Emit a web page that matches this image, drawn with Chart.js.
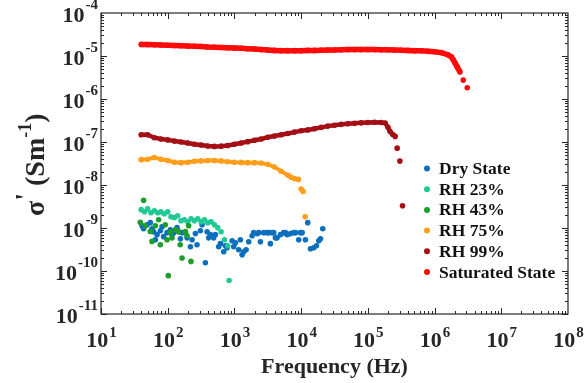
<!DOCTYPE html>
<html>
<head>
<meta charset="utf-8">
<script src="https://cdn.jsdelivr.net/npm/chart.js@4.4.1/dist/chart.umd.min.js"></script>
<style>
  html, body { margin: 0; padding: 0; background: #fff; }
</style>
</head>
<body>
<canvas id="myChart" width="587" height="383"></canvas>
<script>
// ------- DATA -------
// frequency sweep shared by the smooth curves (Hz)
const sweepFreq = [40, 50, 63, 79, 100, 126, 158, 200, 251, 316, 398, 501, 631, 794,
  1000, 1260, 1580, 2000, 2510, 3160, 3980, 5010, 6310, 7940,
  1e4, 1.26e4, 1.58e4, 2e4, 2.51e4, 3.16e4, 3.98e4, 5.01e4, 6.31e4, 7.94e4,
  1e5, 1.26e5, 1.58e5, 2e5, 2.51e5, 3.16e5, 3.98e5, 5.01e5, 6.31e5, 7.94e5,
  1e6, 1.26e6, 1.58e6];

// Saturated State (S/m)
const satSigma = [1.86e-5, 1.84e-5, 1.82e-5, 1.80e-5, 1.78e-5, 1.76e-5, 1.74e-5, 1.70e-5, 1.68e-5, 1.66e-5,
  1.62e-5, 1.60e-5, 1.58e-5, 1.55e-5, 1.53e-5, 1.51e-5, 1.48e-5, 1.45e-5, 1.41e-5, 1.38e-5,
  1.35e-5, 1.33e-5, 1.33e-5, 1.33e-5, 1.33e-5, 1.35e-5, 1.35e-5, 1.36e-5, 1.38e-5, 1.38e-5,
  1.40e-5, 1.41e-5, 1.41e-5, 1.41e-5, 1.41e-5, 1.41e-5, 1.40e-5, 1.40e-5, 1.38e-5, 1.36e-5,
  1.35e-5, 1.33e-5, 1.32e-5, 1.29e-5, 1.26e-5, 1.20e-5, 1.07e-5];
const satTailFreq = [1.78e6, 1.91e6, 2.04e6, 2.19e6, 2.40e6, 2.69e6, 3.09e6];
const satTailSigma = [9.55e-6, 8.13e-6, 6.76e-6, 5.50e-6, 4.27e-6, 2.75e-6, 1.82e-6];

// RH 99%
const rh99Sigma = [1.48e-7, 1.48e-7, 1.26e-7, 1.17e-7, 1.12e-7, 1.05e-7, 1.00e-7, 9.5e-8, 8.9e-8, 8.5e-8,
  8.1e-8, 7.9e-8, 8.0e-8, 8.3e-8, 8.9e-8, 9.5e-8, 1.02e-7, 1.10e-7, 1.17e-7, 1.29e-7,
  1.38e-7, 1.48e-7, 1.58e-7, 1.70e-7, 1.82e-7, 1.91e-7, 2.04e-7, 2.19e-7, 2.34e-7, 2.45e-7,
  2.57e-7, 2.66e-7, 2.72e-7, 2.79e-7, 2.85e-7, 2.88e-7, 2.85e-7];
const rh99TailFreq = [1.82e5, 2.0e5, 2.14e5, 2.34e5, 2.57e5, 2.75e5, 3.02e5, 3.31e5];
const rh99TailSigma = [2.75e-7, 2.19e-7, 1.78e-7, 1.51e-7, 1.35e-7, 7.2e-8, 3.6e-8, 3.3e-9];

// RH 75%
const rh75Sigma = [3.89e-8, 3.98e-8, 4.37e-8, 3.98e-8, 3.72e-8, 3.39e-8, 3.31e-8, 3.39e-8, 3.55e-8, 3.63e-8,
  3.72e-8, 3.72e-8, 3.63e-8, 3.47e-8, 3.39e-8, 3.35e-8, 3.31e-8, 3.31e-8, 3.24e-8, 3.02e-8,
  2.63e-8, 2.09e-8, 1.70e-8];
const rh75TailFreq = [7080, 7940, 9120, 1e4, 1.07e4, 1.15e4];
const rh75TailSigma = [1.51e-8, 1.41e-8, 1.35e-8, 8.1e-9, 7.1e-9, 1.82e-9];

// RH 23%
const rh23Freq = [40, 45, 50, 56, 63, 71, 79, 89, 100, 112, 126, 141, 158, 178, 200, 224, 251, 282, 316, 355,
  398, 447, 501, 562, 631, 708, 794, 832];
const rh23Sigma = [2.67e-9, 2.39e-9, 2.81e-9, 2.27e-9, 2.52e-9, 2.27e-9, 2.39e-9, 2.15e-9, 2.39e-9, 1.83e-9,
  1.74e-9, 1.93e-9, 1.48e-9, 1.56e-9, 1.40e-9, 1.64e-9, 1.48e-9, 1.64e-9, 1.40e-9, 1.56e-9,
  1.33e-9, 1.40e-9, 1.19e-9, 1.02e-9, 8.2e-10, 5.35e-10, 3.87e-10, 6.0e-11];

// RH 43%
const rh43Freq = [38.8, 43.5, 46.1, 54.8, 58.2, 65.2, 73.1, 77.5, 92.0, 97.7, 102, 109, 116, 130, 146, 154,
  164, 184, 195, 206, 223];
const rh43Sigma = [1.35e-9, 4.39e-9, 1.13e-9, 8.3e-10, 4.88e-10, 1.13e-9, 1.56e-9, 4.09e-10, 1.19e-9, 5.35e-10,
  7.8e-11, 7.9e-10, 5.85e-10, 9.1e-10, 8.3e-10, 4.09e-10, 2.0e-10, 8.3e-10, 6.6e-10, 1.13e-9, 1.67e-10];

// Dry State
const dryFreq = [41.2, 43.5, 49.0, 54.9, 58.2, 61.5, 65.3, 69.2, 77.6, 82.2,
  86.9, 97.7, 109.5, 116, 123, 130, 138, 146, 155, 164,
  184, 195, 219, 232, 260, 275, 309, 327, 367, 389,
  411, 436, 489, 518, 581, 616, 690, 732, 776, 923,
  975, 1034, 1159, 1229, 1303, 1377, 1496, 1637, 1841, 1945,
  2188, 2312, 2452, 2748, 3090, 3266, 3463, 3673, 3882, 4117,
  4365, 4893, 5483, 5814, 6166, 6911, 7745, 8212, 9204, 9761,
  10350, 11600, 12560, 13790, 15450, 16960, 18370, 19480, 21090];
const drySigma = [1.13e-9, 9.6e-10, 1.19e-9, 1.33e-9, 9.6e-10, 8.2e-10, 5.35e-10, 7.0e-10, 8.6e-10, 1.07e-9,
  6.3e-10, 7.8e-10, 9.1e-10, 7.0e-10, 7.8e-10, 8.6e-10, 1.02e-9, 8.2e-10, 5.6e-10, 7.8e-10,
  7.8e-10, 5.9e-10, 3.67e-10, 5.35e-10, 7.4e-10, 4.09e-10, 8.6e-10, 1.19e-9, 1.56e-10, 8.2e-10,
  5.9e-10, 7.0e-10, 5.9e-10, 7.0e-10, 3.67e-10, 4.32e-10, 2.81e-10, 3.88e-10, 3.48e-10, 5.07e-10,
  3.67e-10, 4.55e-10, 3.13e-10, 5.35e-10, 2.39e-10, 2.81e-10, 3.13e-10, 4.8e-10, 6.6e-10, 7.8e-10,
  7.4e-10, 7.8e-10, 4.8e-10, 7.8e-10, 7.8e-10, 7.8e-10, 4.32e-10, 7.8e-10, 7.8e-10, 5.9e-10,
  5.9e-10, 7.0e-10, 7.8e-10, 7.8e-10, 7.0e-10, 7.4e-10, 7.8e-10, 7.8e-10, 5.35e-10, 7.8e-10,
  7.8e-10, 5.35e-10, 1.33e-9, 3.30e-10, 3.48e-10, 3.88e-10, 5.07e-10, 5.6e-10, 9.6e-10];

const seriesNames = ['Dry State', 'RH 23%', 'RH 43%', 'RH 75%', 'RH 99%', 'Saturated State'];
const xTickExps = [1, 2, 3, 4, 5, 6, 7, 8];
const yTickExps = [-11, -10, -9, -8, -7, -6, -5, -4];

// ------- CHART -------
const seriesColors = ['#0b6fbd', '#20c994', '#1c9f2a', '#ff9e1b', '#a40f15', '#ff0a0a'];
const serif = '"Liberation Serif", "Times New Roman", serif';

function pairs(fs, vs) {
  return vs.map((v, i) => ({ x: fs[i], y: v }));
}

// don't join the separate points of the steep drop
const gapSegment = {
  borderColor: c => (c.p1.parsed.y / c.p0.parsed.y < 0.75 ? 'rgba(0,0,0,0)' : undefined)
};

function dots(i, data) {
  return {
    label: seriesNames[i],
    data: data,
    order: 6 - i,
    showLine: false,
    pointRadius: 2.8,
    pointBorderWidth: 0,
    pointBackgroundColor: seriesColors[i],
    backgroundColor: seriesColors[i],
    borderColor: seriesColors[i]
  };
}

function curve(i, data, width) {
  const d = dots(i, data);
  d.showLine = true;
  d.borderWidth = width;
  d.tension = 0;
  d.segment = gapSegment;
  return d;
}

const datasets = [
  dots(0, pairs(dryFreq, drySigma)),
  dots(1, pairs(rh23Freq, rh23Sigma)),
  dots(2, pairs(rh43Freq, rh43Sigma)),
  curve(3, pairs(sweepFreq, rh75Sigma).concat(pairs(rh75TailFreq, rh75TailSigma)), 4),
  curve(4, pairs(sweepFreq, rh99Sigma).concat(pairs(rh99TailFreq, rh99TailSigma)), 4.5),
  curve(5, pairs(sweepFreq, satSigma).concat(pairs(satTailFreq, satTailSigma)), 5.5)
];

// box, inward ticks, power-of-ten labels, titles and legend
const framePlugin = {
  id: 'frame',
  afterDraw(chart) {
    const ctx = chart.ctx;
    const a = chart.chartArea;
    const x = chart.scales.x;
    const y = chart.scales.y;
    const ink = '#262626';
    ctx.save();

    ctx.strokeStyle = ink;
    ctx.lineWidth = 1.2;
    ctx.strokeRect(a.left, a.top, a.right - a.left, a.bottom - a.top);

    ctx.lineWidth = 1;
    ctx.beginPath();
    for (let e = 1; e < 8; e++) {
      for (let m = 1; m < 10; m++) {
        const px = Math.round(x.getPixelForValue(m * Math.pow(10, e))) + 0.5;
        const len = m === 1 ? 6 : 3;
        ctx.moveTo(px, a.bottom); ctx.lineTo(px, a.bottom - len);
        ctx.moveTo(px, a.top); ctx.lineTo(px, a.top + len);
      }
    }
    for (let e = -11; e < -4; e++) {
      for (let m = 1; m < 10; m++) {
        const py = Math.round(y.getPixelForValue(m * Math.pow(10, e))) + 0.5;
        const len = m === 1 ? 6 : 3;
        ctx.moveTo(a.left, py); ctx.lineTo(a.left + len, py);
        ctx.moveTo(a.right, py); ctx.lineTo(a.right - len, py);
      }
    }
    ctx.stroke();

    const big = 'bold 22px ' + serif;
    const small = 'bold 15px ' + serif;
    ctx.fillStyle = ink;
    ctx.textAlign = 'left';
    ctx.textBaseline = 'alphabetic';

    xTickExps.forEach(e => {
      const px = x.getPixelForValue(Math.pow(10, e));
      ctx.font = big;
      const w1 = ctx.measureText('10').width;
      ctx.font = small;
      const w2 = ctx.measureText(String(e)).width;
      const x0 = px - (w1 + w2) / 2;
      ctx.font = big;
      ctx.fillText('10', x0, 347);
      ctx.font = small;
      ctx.fillText(String(e), x0 + w1 + 1, 337);
    });

    yTickExps.forEach(e => {
      const py = y.getPixelForValue(Math.pow(10, e));
      ctx.font = big;
      const w1 = ctx.measureText('10').width;
      ctx.font = small;
      const w2 = ctx.measureText(String(e)).width;
      const x0 = a.left - 4 - w1 - w2;
      ctx.font = big;
      ctx.fillText('10', x0, py + 9);
      ctx.font = small;
      ctx.fillText(String(e), x0 + w1 + 1, py - 4);
    });

    // x title
    ctx.font = 'bold 22px ' + serif;
    ctx.textAlign = 'center';
    ctx.fillText('Frequency (Hz)', (a.left + a.right) / 2, 373);

    // y title, rotated
    ctx.save();
    ctx.translate(44, 216);
    ctx.rotate(-Math.PI / 2);
    ctx.textAlign = 'left';
    const parts = [
      { t: '\u03c3', f: 'bold 28px ' + serif, r: 0 },
      { t: '\'', f: 'bold 28px ' + serif, r: 10 },
      { t: ' (Sm', f: 'bold 28px ' + serif, r: 0 },
      { t: '-1', f: 'bold 18px ' + serif, r: 13 },
      { t: ')', f: 'bold 28px ' + serif, r: 0 }
    ];
    let cx = 0;
    parts.forEach(p => {
      ctx.font = p.f;
      ctx.fillText(p.t, cx, -p.r);
      cx += ctx.measureText(p.t).width;
    });
    ctx.restore();

    // legend
    ctx.textAlign = 'left';
    ctx.textBaseline = 'middle';
    ctx.font = 'bold 17.5px ' + serif;
    seriesNames.forEach((name, i) => {
      const cy = 168.5 + i * 20.7;
      ctx.fillStyle = seriesColors[i];
      ctx.beginPath();
      ctx.arc(427, cy, 3, 0, 2 * Math.PI);
      ctx.fill();
      ctx.fillStyle = '#111';
      ctx.fillText(name, 439, cy + 1);
    });

    ctx.restore();
  }
};

const myChart = new Chart(document.getElementById('myChart'), {
  type: 'scatter',
  data: { datasets: datasets },
  options: {
    responsive: false,
    animation: false,
    events: [],
    layout: { padding: { left: 101, right: 19, top: 13, bottom: 69 } },
    plugins: { legend: { display: false }, tooltip: { enabled: false } },
    scales: {
      x: {
        type: 'logarithmic', min: 10, max: 1e8,
        ticks: { display: false }, grid: { display: false }, border: { display: false },
        afterFit(s) { s.height = 0; }
      },
      y: {
        type: 'logarithmic', min: 1e-11, max: 1e-4,
        ticks: { display: false }, grid: { display: false }, border: { display: false },
        afterFit(s) { s.width = 0; }
      }
    }
  },
  plugins: [framePlugin]
});
</script>
</body>
</html>
